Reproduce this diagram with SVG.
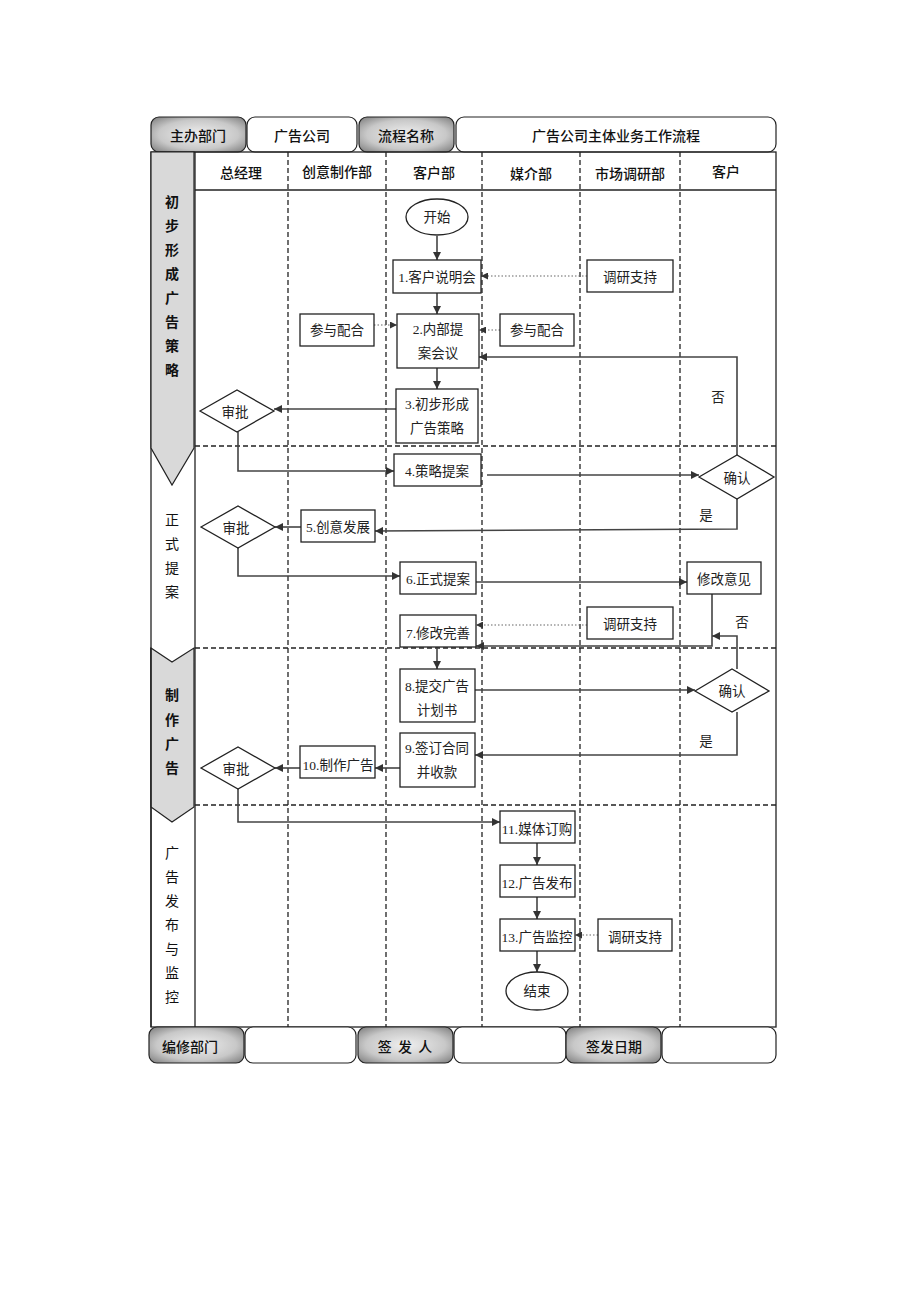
<svg xmlns="http://www.w3.org/2000/svg" width="920" height="1302" viewBox="0 0 920 1302">
<defs>
<radialGradient id="gbox" cx="50%" cy="50%" r="70%">
<stop offset="0" stop-color="#f0f0f0"/>
<stop offset="0.6" stop-color="#c8c8c8"/>
<stop offset="1" stop-color="#7a7a7a"/>
</radialGradient>
<marker id="ar" viewBox="0 0 10 10" refX="10" refY="5" markerWidth="8" markerHeight="8" markerUnits="userSpaceOnUse" orient="auto">
<path d="M0,0 L10,5 L0,10 z" fill="#333"/>
</marker>
<marker id="ars" viewBox="0 0 10 10" refX="10" refY="5" markerWidth="7" markerHeight="7" markerUnits="userSpaceOnUse" orient="auto">
<path d="M0,0 L10,5 L0,10 z" fill="#333"/>
</marker>
</defs>
<style>
.hb{fill:url(#gbox);stroke:#222;stroke-width:1.2}
.hw{fill:#fff;stroke:#222;stroke-width:1.2}
.ht{font-family:"Noto Sans CJK SC",sans-serif;font-size:14px;font-weight:500;fill:#111;text-anchor:middle;dominant-baseline:central}
.ht2{font-family:"Noto Sans CJK SC",sans-serif;font-size:14px;font-weight:500;fill:#111;text-anchor:middle;dominant-baseline:central}
.lt{font-family:"Noto Sans CJK SC",sans-serif;font-size:14px;font-weight:500;fill:#111;text-anchor:middle;dominant-baseline:central}
.pt{font-family:"Noto Sans CJK SC",sans-serif;font-size:14px;fill:#111;text-anchor:middle;dominant-baseline:central}
.pb{font-family:"Noto Sans CJK SC",sans-serif;font-size:14px;font-weight:bold;fill:#111;text-anchor:middle;dominant-baseline:central}
.bx{fill:#fff;stroke:#222;stroke-width:1.3}
.t{font-family:"Liberation Serif","Noto Sans CJK SC",serif;font-size:13.5px;fill:#222;text-anchor:middle;dominant-baseline:central}
.solid{stroke:#222;stroke-width:1.3;fill:none}
.dash{stroke:#222;stroke-width:1.3;stroke-dasharray:5,3;fill:none}
.c{stroke:#444;stroke-width:1.6;fill:none;marker-end:url(#ar)}
.d{stroke:#666;stroke-width:1.2;stroke-dasharray:1.5,2;fill:none;marker-end:url(#ars)}
</style>

<g id="header">
<rect class="hb" x="151" y="117" width="95" height="35" rx="8"/>
<text class="ht" x="198" y="135">主办部门</text>
<rect class="hw" x="247" y="117" width="110" height="35" rx="8"/>
<text class="ht2" x="302" y="135">广告公司</text>
<rect class="hb" x="359" y="117" width="95" height="35" rx="8"/>
<text class="ht" x="406" y="135">流程名称</text>
<rect class="hw" x="456" y="117" width="320" height="35" rx="8"/>
<text class="ht2" x="616" y="135">广告公司主体业务工作流程</text>
</g>

<g id="grid">
<rect class="solid" x="151" y="152" width="625" height="875"/>
<line class="solid" x1="195" y1="152" x2="195" y2="1027"/>
<line class="solid" x1="195" y1="190" x2="776" y2="190"/>
<line class="dash" x1="288" y1="152" x2="288" y2="1027"/>
<line class="dash" x1="386" y1="152" x2="386" y2="1027"/>
<line class="dash" x1="482" y1="152" x2="482" y2="1027"/>
<line class="dash" x1="580" y1="152" x2="580" y2="1027"/>
<line class="dash" x1="680" y1="152" x2="680" y2="1027"/>
<line class="dash" x1="195" y1="446" x2="776" y2="446"/>
<line class="dash" x1="195" y1="648" x2="776" y2="648"/>
<line class="dash" x1="195" y1="805" x2="776" y2="805"/>
</g>

<g id="lanes">
<text class="lt" x="241" y="172">总经理</text>
<text class="lt" x="337" y="171">创意制作部</text>
<text class="lt" x="434" y="172">客户部</text>
<text class="lt" x="531" y="173">媒介部</text>
<text class="lt" x="630" y="173">市场调研部</text>
<text class="lt" x="726" y="171">客户</text>
</g>

<g id="phases">
<path d="M151,152 L194,152 L194,448 L172,485 L151,448 Z" fill="#d9d9d9" stroke="#222" stroke-width="1.2"/>
<path d="M151,648 L172,662 L194,648 L194,807 L172,822 L151,807 Z" fill="#d9d9d9" stroke="#222" stroke-width="1.2"/>
<line class="solid" x1="151" y1="648" x2="151" y2="1027"/>
<text class="pb" x="172" y="201">初</text>
<text class="pb" x="172" y="225">步</text>
<text class="pb" x="172" y="249">形</text>
<text class="pb" x="172" y="273">成</text>
<text class="pb" x="172" y="297">广</text>
<text class="pb" x="172" y="321">告</text>
<text class="pb" x="172" y="345">策</text>
<text class="pb" x="172" y="369">略</text>
<text class="pt" x="172" y="519">正</text>
<text class="pt" x="172" y="543">式</text>
<text class="pt" x="172" y="567">提</text>
<text class="pt" x="172" y="591">案</text>
<text class="pb" x="172" y="694">制</text>
<text class="pb" x="172" y="719">作</text>
<text class="pb" x="172" y="743">广</text>
<text class="pb" x="172" y="767">告</text>
<text class="pt" x="172" y="852">广</text>
<text class="pt" x="172" y="876">告</text>
<text class="pt" x="172" y="900">发</text>
<text class="pt" x="172" y="924">布</text>
<text class="pt" x="172" y="948">与</text>
<text class="pt" x="172" y="972">监</text>
<text class="pt" x="172" y="996">控</text>
</g>

<g id="connectors">
<line class="c" x1="437" y1="236" x2="437" y2="260"/>
<line class="c" x1="437" y1="293" x2="437" y2="314"/>
<line class="c" x1="437" y1="368" x2="437" y2="389"/>
<line class="d" x1="587" y1="276" x2="481" y2="276"/>
<line class="d" x1="374" y1="325" x2="397" y2="325"/>
<line class="d" x1="500" y1="330" x2="479" y2="330"/>
<polyline class="c" points="737,455 737,357 479,357"/>
<line class="c" x1="396" y1="409" x2="274" y2="409"/>
<polyline class="c" points="238,432 238,471 394,471"/>
<line class="c" x1="487" y1="475" x2="699" y2="475"/>
<polyline class="c" points="737,499 737,529 375,531"/>
<line class="c" x1="301" y1="527" x2="275" y2="527"/>
<polyline class="c" points="238,548 238,576 400,576"/>
<line class="c" x1="476" y1="582" x2="687" y2="582"/>
<polyline class="c" points="712,594 712,646 476,646"/>
<polyline class="c" points="737,669 737,636 712,636"/>
<line class="d" x1="587" y1="625" x2="476" y2="625"/>
<line class="c" x1="437" y1="647" x2="437" y2="669"/>
<line class="c" x1="475" y1="690" x2="695" y2="690"/>
<polyline class="c" points="737,712 737,755 475,755"/>
<line class="c" x1="400" y1="768" x2="375" y2="768"/>
<line class="c" x1="300" y1="768" x2="275" y2="768"/>
<polyline class="c" points="238,789 238,822 500,822"/>
<line class="c" x1="537" y1="843" x2="537" y2="865"/>
<line class="c" x1="537" y1="897" x2="537" y2="919"/>
<line class="d" x1="598" y1="935" x2="575" y2="935"/>
<line class="c" x1="537" y1="951" x2="537" y2="972"/>
</g>

<g id="start"><ellipse class="bx" cx="437" cy="217" rx="31" ry="18"/><text class="t" x="437" y="217">开始</text></g>
<g id="n1"><rect class="bx" x="393" y="260" width="88" height="33"/><text class="t" x="437" y="277">1.客户说明会</text></g>
<g id="n2"><rect class="bx" x="397" y="314" width="82" height="54"/><text class="t" x="438" y="329">2.内部提</text><text class="t" x="438" y="353">案会议</text></g>
<g id="n3"><rect class="bx" x="396" y="389" width="82" height="54"/><text class="t" x="437" y="404">3.初步形成</text><text class="t" x="437" y="428">广告策略</text></g>
<g id="d1"><polygon class="bx" points="200,411 237,390 274,411 237,432"/><text class="t" x="235" y="412">审批</text></g>
<g id="pa1"><rect class="bx" x="300" y="314" width="74" height="32"/><text class="t" x="337" y="330">参与配合</text></g>
<g id="pa2"><rect class="bx" x="500" y="314" width="74" height="32"/><text class="t" x="537" y="330">参与配合</text></g>
<g id="r1"><rect class="bx" x="587" y="260" width="86" height="32"/><text class="t" x="630" y="277">调研支持</text></g>
<g id="n4"><rect class="bx" x="394" y="454" width="87" height="32"/><text class="t" x="437" y="471">4.策略提案</text></g>
<g id="c1"><polygon class="bx" points="699,477 737,455 774,477 737,499"/><text class="t" x="737" y="478">确认</text></g>
<text class="t" x="718" y="397">否</text>
<text class="t" x="706" y="515">是</text>
<g id="n5"><rect class="bx" x="301" y="510" width="74" height="32"/><text class="t" x="338" y="527">5.创意发展</text></g>
<g id="d2"><polygon class="bx" points="201,527 238,506 275,527 238,548"/><text class="t" x="236" y="528">审批</text></g>
<g id="n6"><rect class="bx" x="400" y="562" width="76" height="32"/><text class="t" x="438" y="579">6.正式提案</text></g>
<g id="m1"><rect class="bx" x="687" y="562" width="74" height="32"/><text class="t" x="724" y="579">修改意见</text></g>
<g id="n7"><rect class="bx" x="400" y="615" width="76" height="32"/><text class="t" x="438" y="633">7.修改完善</text></g>
<g id="r2"><rect class="bx" x="587" y="607" width="86" height="32"/><text class="t" x="630" y="624">调研支持</text></g>
<text class="t" x="742" y="622">否</text>
<g id="n8"><rect class="bx" x="400" y="669" width="75" height="53"/><text class="t" x="437" y="686">8.提交广告</text><text class="t" x="437" y="710">计划书</text></g>
<g id="c2"><polygon class="bx" points="695,691 732,669 769,691 732,712"/><text class="t" x="732" y="691">确认</text></g>
<text class="t" x="706" y="741">是</text>
<g id="n9"><rect class="bx" x="400" y="733" width="75" height="54"/><text class="t" x="437" y="748">9.签订合同</text><text class="t" x="437" y="772">并收款</text></g>
<g id="n10"><rect class="bx" x="300" y="746" width="75" height="32"/><text class="t" x="338" y="765">10.制作广告</text></g>
<g id="d3"><polygon class="bx" points="201,768 238,747 275,768 238,789"/><text class="t" x="236" y="769">审批</text></g>
<g id="n11"><rect class="bx" x="500" y="811" width="75" height="32"/><text class="t" x="537" y="829">11.媒体订购</text></g>
<g id="n12"><rect class="bx" x="500" y="865" width="75" height="32"/><text class="t" x="537" y="883">12.广告发布</text></g>
<g id="n13"><rect class="bx" x="500" y="919" width="75" height="32"/><text class="t" x="537" y="937">13.广告监控</text></g>
<g id="r3"><rect class="bx" x="598" y="919" width="74" height="32"/><text class="t" x="635" y="937">调研支持</text></g>
<g id="end"><ellipse class="bx" cx="537" cy="991" rx="31" ry="19"/><text class="t" x="537" y="991">结束</text></g>

<g id="footer">
<rect class="hb" x="149" y="1027" width="95" height="36" rx="8"/>
<text class="ht" x="190" y="1046">编修部门</text>
<rect class="hw" x="245" y="1027" width="111" height="36" rx="8"/>
<rect class="hb" x="358" y="1027" width="95" height="36" rx="8"/>
<text class="ht" x="405" y="1046" xml:space="preserve">签  发  人</text>
<rect class="hw" x="454" y="1027" width="112" height="36" rx="8"/>
<rect class="hb" x="566" y="1027" width="95" height="36" rx="8"/>
<text class="ht" x="614" y="1046">签发日期</text>
<rect class="hw" x="662" y="1027" width="114" height="36" rx="8"/>
</g>
</svg>
